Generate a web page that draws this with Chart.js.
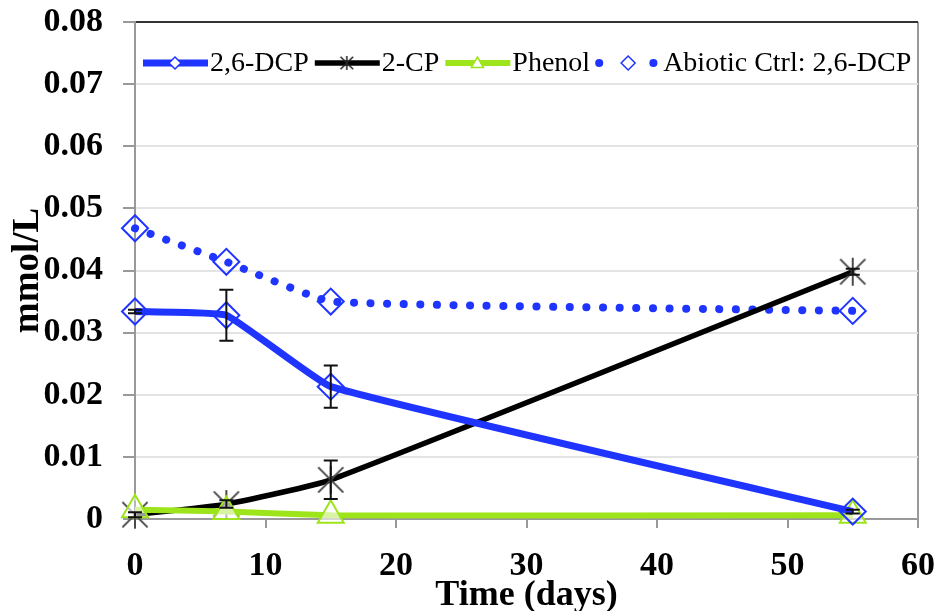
<!DOCTYPE html>
<html lang="en">
<head>
<meta charset="UTF-8">
<title>2,6-DCP, 2-CP and Phenol over time</title>
<script src="https://cdn.jsdelivr.net/npm/chart.js"></script>
<style>
  body { margin: 0; background: #fff; }
  .chart-box { width: 940px; height: 611px; }
</style>
</head>
<body>
<div class="chart-box"><canvas id="degChart" width="940" height="611"></canvas></div>

<script>
// sampling days and measured concentrations (mmol/L)
const days = [0, 7, 15, 55];
const dcp = [0.0334, 0.0328, 0.0213, 0.0012];
const dcpErr = [0.0003, 0.0041, 0.0034, 0.0003];
const cp = [0.0007, 0.0024, 0.0063, 0.0398];
const cpErr = [0.0004, 0.0006, 0.0031, 0.0005];
const phenol = [0.0015, 0.0012, 0.0006, 0.0006];
const abiotic = [0.0468, 0.0414, 0.0350, 0.0335];
const yTicks = [0, 0.01, 0.02, 0.03, 0.04, 0.05, 0.06, 0.07, 0.08];
const xTicks = [0, 10, 20, 30, 40, 50, 60];

const BLUE = '#1f35ff';
const GREEN = '#9de41b';
const SERIF = '"Liberation Serif", "Times New Roman", serif';

function pts(vals) {
    return days.map((d, i) => ({ x: d, y: vals[i] }));
}

// excel style "star" marker: an X with a vertical bar
function starImage(r, color, lw) {
    const c = document.createElement('canvas');
    c.width = c.height = 2 * r + 4;
    const g = c.getContext('2d');
    const m = r + 2, a = r * 0.9;
    g.strokeStyle = color;
    g.lineWidth = lw;
    g.beginPath();
    g.moveTo(m - a, m - a); g.lineTo(m + a, m + a);
    g.moveTo(m + a, m - a); g.lineTo(m - a, m + a);
    g.moveTo(m, m - r); g.lineTo(m, m + r);
    g.stroke();
    return c;
}

function diamond(ctx, x, y, r, color) {
    ctx.beginPath();
    ctx.moveTo(x, y - r); ctx.lineTo(x + r, y); ctx.lineTo(x, y + r); ctx.lineTo(x - r, y);
    ctx.closePath();
    ctx.fillStyle = '#fff';
    ctx.fill();
    ctx.lineWidth = 1.5;
    ctx.strokeStyle = color;
    ctx.stroke();
}

function triangle(ctx, x, y, r, color) {
    ctx.beginPath();
    ctx.moveTo(x, y - r);
    ctx.lineTo(x + r * 0.87, y + r * 0.5);
    ctx.lineTo(x - r * 0.87, y + r * 0.5);
    ctx.closePath();
    ctx.fillStyle = '#fff';
    ctx.fill();
    ctx.lineWidth = 1.5;
    ctx.strokeStyle = color;
    ctx.stroke();
}

const bigStar = starImage(14, '#4a4a4a', 2);
const smallStar = starImage(7, '#222', 1.5);

// how each series looks in the legend (line sample + small marker)
const legendLook = {
    '2,6-DCP': { dash: [], cap: 'butt', mark: (ctx, x, y) => diamond(ctx, x, y, 6, BLUE) },
    '2-CP': { dash: [], cap: 'butt', mark: (ctx, x, y) => ctx.drawImage(smallStar, x - smallStar.width / 2, y - smallStar.height / 2) },
    'Phenol': { dash: [], cap: 'butt', mark: (ctx, x, y) => triangle(ctx, x, y + 1, 7, GREEN) },
    'Abiotic Ctrl: 2,6-DCP': { dash: [0.1, 27], cap: 'round', mark: (ctx, x, y) => diamond(ctx, x, y, 7, BLUE) }
};

const legendPlugin = {
    id: 'lineLegend',
    afterDraw(chart) {
        const ctx = chart.ctx;
        const y = 63;
        let x = chart.chartArea.left + 8;
        ctx.save();
        ctx.font = '28px ' + SERIF;
        ctx.textBaseline = 'middle';
        chart.data.datasets.forEach(ds => {
            const look = legendLook[ds.label];
            const x0 = look.dash.length ? x + 3 : x;
            ctx.beginPath();
            ctx.setLineDash(look.dash);
            ctx.lineCap = look.cap;
            ctx.strokeStyle = ds.borderColor;
            ctx.lineWidth = ds.borderWidth;
            ctx.moveTo(x0, y);
            ctx.lineTo(x + 65, y);
            ctx.stroke();
            ctx.setLineDash([]);
            look.mark(ctx, x + 32, y);
            ctx.fillStyle = '#000';
            ctx.fillText(ds.label, x + 67, y + 1);
            x += 67 + ctx.measureText(ds.label).width + 6;
        });
        ctx.restore();
    }
};

// vertical error bars with caps
const errorBars = {
    id: 'errorBars',
    afterDatasetsDraw(chart) {
        const ctx = chart.ctx;
        const xs = chart.scales.x, ys = chart.scales.y;
        ctx.save();
        ctx.strokeStyle = '#111';
        ctx.lineWidth = 2;
        chart.data.datasets.forEach(ds => {
            if (!ds.errors) return;
            ds.data.forEach((p, i) => {
                const e = ds.errors[i];
                const px = xs.getPixelForValue(p.x);
                const top = ys.getPixelForValue(p.y + e);
                const bot = ys.getPixelForValue(Math.max(p.y - e, 0));
                ctx.beginPath();
                ctx.moveTo(px, top); ctx.lineTo(px, bot);
                ctx.moveTo(px - 7, top); ctx.lineTo(px + 7, top);
                ctx.moveTo(px - 7, bot); ctx.lineTo(px + 7, bot);
                ctx.stroke();
            });
        });
        ctx.restore();
    }
};

const ctx = document.getElementById('degChart').getContext('2d');
const degChart = new Chart(ctx, {
    type: 'line',
    data: {
        datasets: [
            {
                label: '2,6-DCP',
                data: pts(dcp),
                errors: dcpErr,
                borderColor: BLUE,
                borderWidth: 7,
                pointStyle: 'rectRot',
                pointRadius: 13,
                pointBorderWidth: 2,
                pointBorderColor: BLUE,
                pointBackgroundColor: 'rgba(0,0,0,0)',
                tension: 0.1,
                clip: false,
                order: 1
            },
            {
                label: '2-CP',
                data: pts(cp),
                errors: cpErr,
                borderColor: '#000',
                borderWidth: 5.5,
                pointStyle: bigStar,
                pointRadius: 14,
                tension: 0.15,
                clip: false,
                order: 3
            },
            {
                label: 'Phenol',
                data: pts(phenol),
                borderColor: GREEN,
                borderWidth: 6,
                pointStyle: 'triangle',
                pointRadius: 15,
                pointBorderWidth: 2,
                pointBorderColor: GREEN,
                pointBackgroundColor: 'rgba(255,255,255,0.6)',
                tension: 0.1,
                clip: false,
                order: 2
            },
            {
                label: 'Abiotic Ctrl: 2,6-DCP',
                data: pts(abiotic),
                borderColor: BLUE,
                borderWidth: 8,
                borderDash: [0.1, 16.5],
                borderCapStyle: 'round',
                pointStyle: 'rectRot',
                pointRadius: 13,
                pointBorderWidth: 2,
                pointBorderColor: BLUE,
                pointBackgroundColor: 'rgba(0,0,0,0)',
                tension: 0.1,
                clip: false,
                order: 4
            }
        ]
    },
    options: {
        responsive: false,
        animation: false,
        layout: { padding: { top: 22, right: 22, left: 0, bottom: 0 } },
        plugins: {
            legend: { display: false },
            tooltip: { enabled: false }
        },
        scales: {
            x: {
                type: 'linear',
                min: 0,
                max: 60,
                afterBuildTicks: s => { s.ticks = xTicks.map(v => ({ value: v })); },
                afterFit: s => { s.height = 92; s.paddingLeft = 0; s.paddingRight = 0; },
                border: { color: '#999', width: 2 },
                grid: {
                    color: c => (c.tick && c.tick.value === 60 ? '#999' : 'rgba(0,0,0,0)'),
                    lineWidth: 2,
                    tickColor: '#999',
                    tickLength: 9
                },
                ticks: {
                    color: '#000',
                    padding: 18,
                    font: { family: SERIF, size: 34, weight: 'bold' }
                },
                title: {
                    display: true,
                    text: 'Time (days)',
                    color: '#000',
                    padding: { top: 0, bottom: -6 },
                    font: { family: SERIF, size: 36, weight: 'bold' }
                }
            },
            y: {
                min: 0,
                max: 0.08,
                afterBuildTicks: s => { s.ticks = yTicks.map(v => ({ value: v })); },
                afterFit: s => { s.width = 135; s.paddingTop = 0; s.paddingBottom = 0; },
                border: { color: '#999', width: 2 },
                grid: {
                    color: c => (c.tick && Math.abs(c.tick.value - 0.08) < 1e-9 ? '#333' : '#e4e4e4'),
                    lineWidth: 2,
                    tickColor: '#999',
                    tickLength: 12
                },
                ticks: {
                    color: '#000',
                    padding: 20,
                    font: { family: SERIF, size: 34, weight: 'bold' },
                    callback: v => (v === 0 ? '0' : v.toFixed(2))
                },
                title: {
                    display: true,
                    text: 'mmol/L',
                    color: '#000',
                    padding: { top: 6, bottom: 0 },
                    font: { family: SERIF, size: 37, weight: 'bold' }
                }
            }
        }
    },
    plugins: [errorBars, legendPlugin]
});
</script>
</body>
</html>
